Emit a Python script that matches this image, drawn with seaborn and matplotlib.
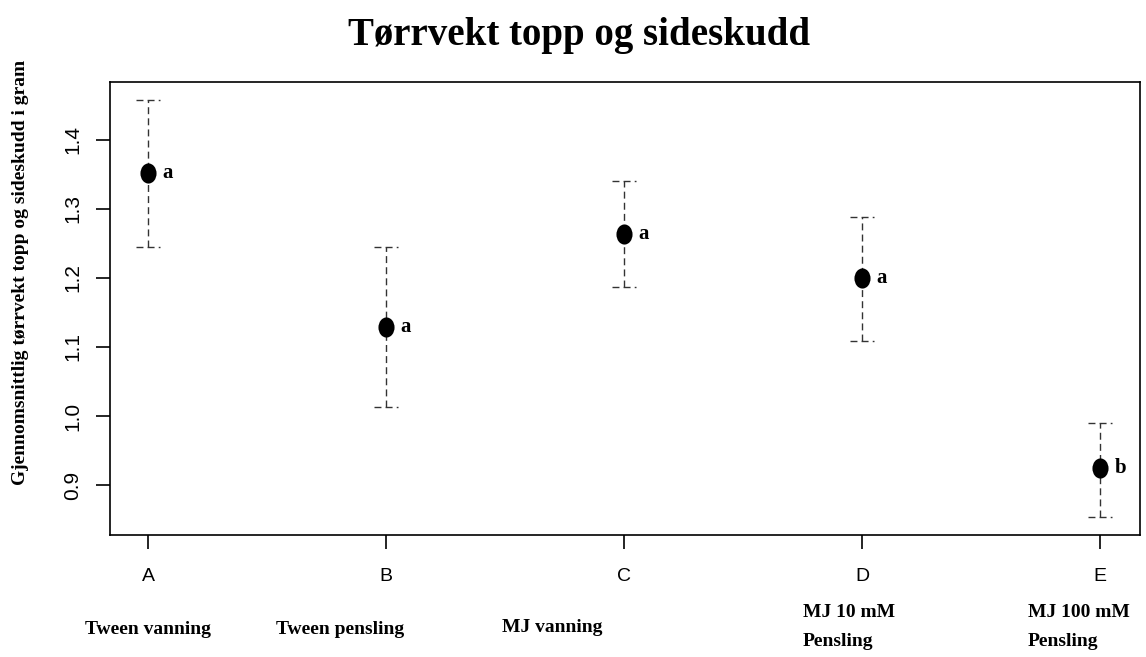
import numpy as np
import matplotlib
matplotlib.use("Agg")
import matplotlib.pyplot as plt
from matplotlib.path import Path
import seaborn as sns
import pandas as pd

# data
groups = ["A", "B", "C", "D", "E"]
treatments = ["Tween vanning", "Tween pensling", "MJ vanning",
              "MJ 10 mM\nPensling", "MJ 100 mM\nPensling"]
means = [1.352, 1.129, 1.264, 1.200, 0.924]
upper = [1.458, 1.245, 1.341, 1.288, 0.990]
lower = [1.245, 1.013, 1.187, 1.109, 0.854]
letters = ["a", "a", "a", "a", "b"]

df = pd.DataFrame({"pos": np.arange(len(groups)), "group": groups,
                   "mean": means, "upper": upper, "lower": lower})

sns.set_style("ticks")
plt.rcParams['font.family'] = ['Liberation Sans', 'DejaVu Sans']
for k in ["text.color", "axes.labelcolor", "xtick.color", "ytick.color"]:
    plt.rcParams[k] = "black"

W, H = 1146, 657
fig = plt.figure(figsize=(W / 100, H / 100), dpi=100)
ax = fig.add_axes([110 / W, 1 - 535 / H, 1030 / W, 453 / H])

dash = (0, (5, 3))
ax.vlines(df["pos"], df["lower"], df["upper"], colors="#333333",
          linestyles=[dash], linewidth=1, zorder=1)
ax.hlines(df["upper"], df["pos"] - 0.05, df["pos"] + 0.05, colors="#333333",
          linestyles=[dash], linewidth=1, zorder=1)
ax.hlines(df["lower"], df["pos"] - 0.05, df["pos"] + 0.05, colors="#333333",
          linestyles=[dash], linewidth=1, zorder=1)

# slightly tall dot, as in the (stretched) original
circ = Path.unit_circle()
ellipse = Path(circ.vertices * [0.8, 1.0], circ.codes)
sns.scatterplot(data=df, x="pos", y="mean", ax=ax, color="black", s=210,
                marker=ellipse, edgecolor="black", linewidth=0, zorder=3,
                legend=False)

for x, y, t in zip(df["pos"], df["mean"], letters):
    ax.text(x + 0.06, y, t, fontsize=15, fontweight="bold",
            family="Liberation Serif", va="center", ha="left")

ax.set_xlim(-0.16, 4.168)
ax.set_ylim(0.8275, 1.484)
ax.set_xticks(df["pos"])
ax.set_xticklabels(groups, fontsize=14)
ax.set_yticks([0.9, 1.0, 1.1, 1.2, 1.3, 1.4])
ax.set_yticklabels(["0.9", "1.0", "1.1", "1.2", "1.3", "1.4"], fontsize=15,
                   rotation=90, va="center")
ax.tick_params(axis="both", length=10, width=1.2)
ax.tick_params(axis="x", pad=14)
ax.tick_params(axis="y", pad=10)
for s in ax.spines.values():
    s.set_visible(True)
    s.set_linewidth(1.2)
    s.set_color("black")
ax.set_xlabel("")
ax.set_ylabel("")

# treatment names, placed by hand as in the original
label_xy = [(148, 630, "center"), (340, 630, "center"), (552, 627, "center"),
            (803, 627, "left"), (1028, 627, "left")]
for (px, py, ha), t in zip(label_xy, treatments):
    fig.text(px / W, 1 - py / H, t, ha=ha, va="center", fontsize=14,
             fontweight="bold", family="Liberation Serif", linespacing=1.9)

fig.text(579 / W, 1 - 45 / H, "Tørrvekt topp og sideskudd", ha="center",
         va="baseline", fontsize=28, fontweight="bold",
         family="Liberation Serif")
fig.text(21 / W, 1 - 272 / H,
         "Gjennomsnittlig tørrvekt topp og sideskudd i gram", rotation=90,
         ha="center", va="center", fontsize=14, fontweight="bold",
         family="Liberation Serif")

fig.savefig("out.png", dpi=100)
